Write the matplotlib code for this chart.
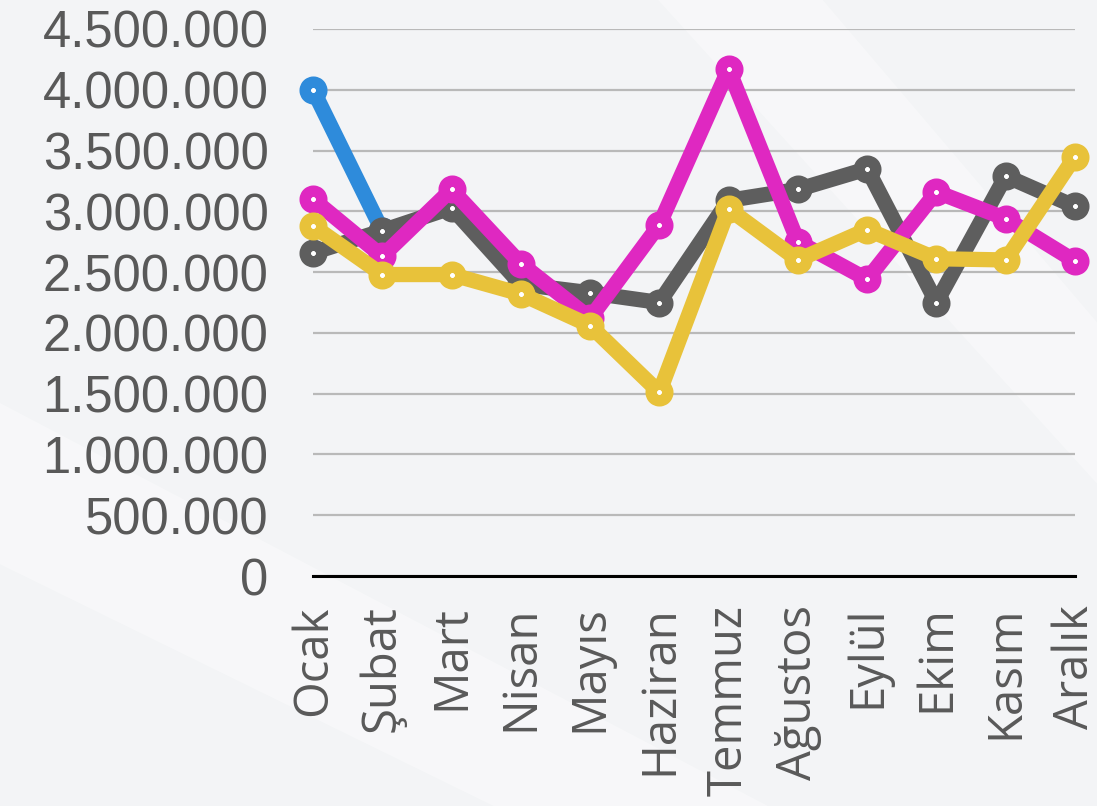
import numpy as np
import matplotlib.pyplot as plt
from matplotlib.patches import Polygon

months = ["Ocak", "Şubat", "Mart", "Nisan", "Mayıs", "Haziran",
          "Temmuz", "Ağustos", "Eylül", "Ekim", "Kasım", "Aralık"]

# blue series only has the first two months
blue = [4000000, 2840000]
gray = [2660000, 2840000, 3030000, 2400000, 2330000, 2250000,
        3090000, 3180000, 3350000, 2250000, 3290000, 3040000]
magenta = [3100000, 2630000, 3180000, 2570000, 2120000, 2890000,
           4170000, 2750000, 2440000, 3160000, 2940000, 2590000]
yellow = [2880000, 2480000, 2480000, 2320000, 2060000, 1510000,
          3020000, 2600000, 2850000, 2610000, 2600000, 3450000]

yticks = [0, 500000, 1000000, 1500000, 2000000, 2500000,
          3000000, 3500000, 4000000, 4500000]

fig = plt.figure(figsize=(10.97, 8.06), dpi=100)
fig.patch.set_facecolor("#f3f4f6")

# faint diagonal highlights behind everything
bg = fig.add_axes([0, 0, 1, 1], zorder=-10)
bg.set_xlim(0, 1)
bg.set_ylim(0, 1)
bg.axis("off")
for pts in ([(0.0, 0.5), (0.0, 0.3), (0.45, 0.0), (0.7, 0.0)],
            [(0.6, 1.0), (0.75, 1.0), (1.0, 0.6), (1.0, 0.4)]):
    bg.add_patch(Polygon(pts, closed=True, facecolor="white", alpha=0.35, edgecolor="none"))

ax = fig.add_axes([313 / 1097, 1 - 576 / 806, (1075 - 313) / 1097, (576 - 29) / 806])
ax.set_facecolor("none")

x = np.arange(len(months))
series = [(blue, "#2e8bdb"), (gray, "#5e5e5e"), (magenta, "#df28c1"), (yellow, "#e8c23a")]
for i, (vals, col) in enumerate(series):
    ax.plot(x[:len(vals)], vals, color=col, lw=11, marker="o", ms=12, mew=8.2,
            mfc="white", mec=col, solid_joinstyle="round", solid_capstyle="round",
            zorder=3 + i, clip_on=False)

ax.set_xlim(0, 11)
ax.set_ylim(0, 4500000)
ax.set_yticks(yticks)
ax.set_yticklabels([f"{v:,}".replace(",", ".") for v in yticks],
                   fontsize=36.5, color="#595959", family="Liberation Sans")
ax.set_xticks(x)
ax.set_xticklabels(months, rotation=90, fontsize=34, color="#595959", family="Open Sans")
ax.tick_params(axis="y", length=0, pad=32)
ax.tick_params(axis="x", length=0, pad=21)

ax.grid(axis="y", color="#b9b9b9", lw=1.6)
ax.set_axisbelow(True)
for s in ["top", "right", "left"]:
    ax.spines[s].set_visible(False)
ax.spines["bottom"].set_color("black")
ax.spines["bottom"].set_linewidth(2.2)
ax.spines["bottom"].set_zorder(2.5)

fig.savefig("out.png", dpi=100, facecolor=fig.get_facecolor())
